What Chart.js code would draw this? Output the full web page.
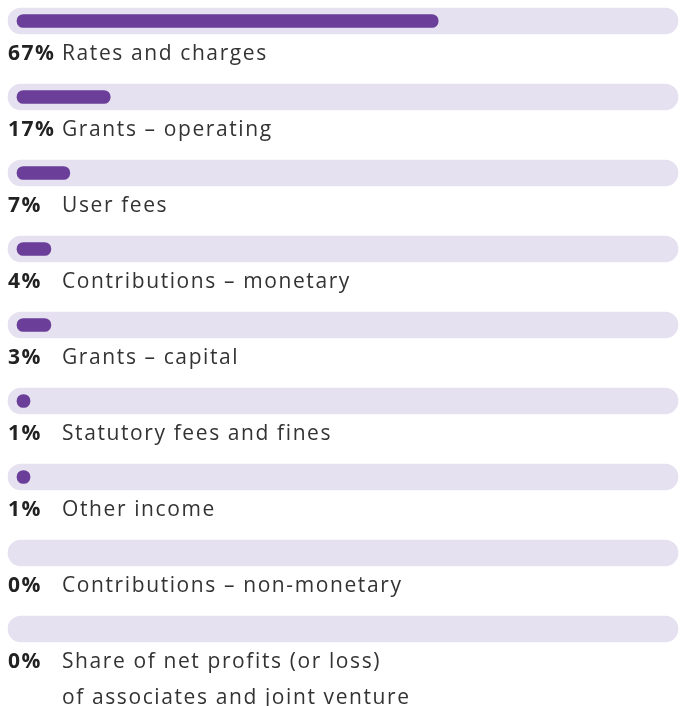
<!DOCTYPE html>
<html>
<head>
<meta charset="utf-8">
<script src="https://cdn.jsdelivr.net/npm/chart.js@4"></script>
<style>
  body { margin: 0; background: #fff; }
  .wrap { width: 683px; height: 706px; position: relative; }
</style>
</head>
<body>
<div class="wrap"><canvas id="incomeChart"></canvas></div>
<script>
// categories and their share of income
const categories = [
    "Rates and charges",
    "Grants \u2013 operating",
    "User fees",
    "Contributions \u2013 monetary",
    "Grants \u2013 capital",
    "Statutory fees and fines",
    "Other income",
    "Contributions \u2013 non-monetary",
    ["Share of net profits (or loss)", "of associates and joint venture"]
];
const shares = [67, 17, 7, 4, 3, 1, 1, 0, 0];
// bar lengths as drawn in the picture (percent of the track)
const barLength = [64.6, 14.3, 8.1, 5.2, 5.2, 2.0, 2.0, 0, 0];

const PAD = 1.38; // track sticks out past 0 and 100
const trackRange = categories.map(() => [-PAD, 100 + PAD]);

const purple = "#6b3f99";
const lavender = "#e6e1f1";

// draws "67%  Rates and charges" under each track
const labelPlugin = {
    id: "rowLabels",
    afterDraw(chart) {
        const ctx = chart.ctx;
        const yScale = chart.scales.y;
        ctx.save();
        ctx.textBaseline = "middle";
        for (let i = 0; i < categories.length; i++) {
            let y = yScale.getPixelForValue(i) + 33;
            ctx.fillStyle = "#222";
            ctx.font = "bold 21px 'Open Sans'";
            ctx.letterSpacing = "1.5px";
            ctx.fillText(shares[i] + "%", 8, y);
            ctx.fillStyle = "#333";
            ctx.font = "21px 'Open Sans'";
            ctx.letterSpacing = "1.6px";
            let lines = Array.isArray(categories[i]) ? categories[i] : [categories[i]];
            lines.forEach((line, k) => {
                ctx.fillText(line, 62, y + k * 36);
            });
        }
        ctx.restore();
    }
};

new Chart(document.getElementById("incomeChart"), {
    type: "bar",
    data: {
        labels: categories,
        datasets: [
            {
                label: "share",
                data: barLength,
                // a zero bar should leave no sliver behind
                backgroundColor: (c) => (c.raw > 0 ? purple : "rgba(0,0,0,0)"),
                barThickness: 13,
                borderRadius: 6.5,
                borderSkipped: false,
                grouped: false,
                clip: false,
                order: 1
            },
            {
                label: "track",
                data: trackRange,
                backgroundColor: lavender,
                barThickness: 26,
                borderRadius: 13,
                borderSkipped: false,
                grouped: false,
                clip: false,
                order: 2
            }
        ]
    },
    options: {
        indexAxis: "y",
        responsive: true,
        maintainAspectRatio: false,
        animation: false,
        layout: { padding: { left: 8, right: 5, top: 21, bottom: 77 } },
        scales: {
            x: { display: false, min: -PAD, max: 100 + PAD },
            y: { display: false, offset: false }
        },
        plugins: {
            legend: { display: false },
            tooltip: { enabled: false }
        }
    },
    plugins: [labelPlugin]
});
</script>
</body>
</html>
